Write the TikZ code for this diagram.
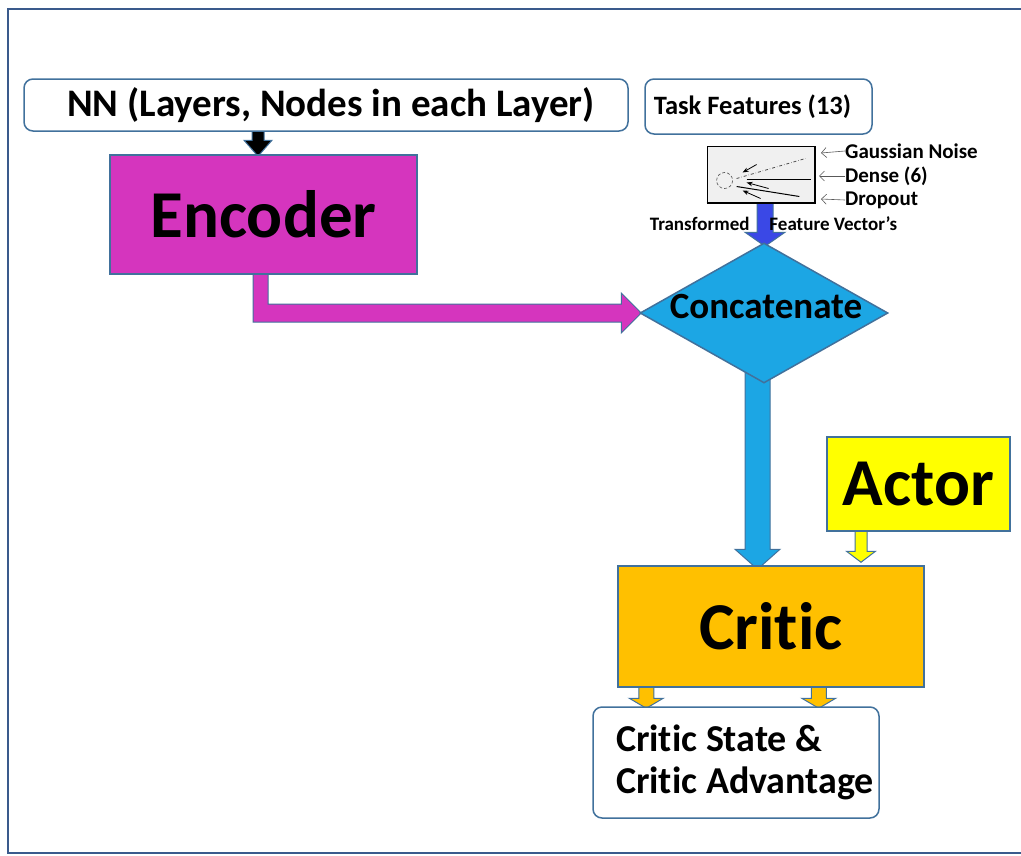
\documentclass[tikz,border=0pt]{standalone}
\usepackage{fontspec}
\setmainfont{Carlito}[Ligatures=NoCommon]
\usetikzlibrary{positioning,calc,arrows.meta,shapes.geometric,backgrounds}

\definecolor{edgeblue}{HTML}{41719C}
\definecolor{frameblue}{HTML}{3A5A8C}
\definecolor{encmag}{HTML}{D535BE}
\definecolor{catblue}{HTML}{1CA6E4}
\definecolor{critorange}{HTML}{FFC000}
\definecolor{actyellow}{HTML}{FFFF00}
\definecolor{featblue}{HTML}{3A48E6}

\tikzstyle{inbox} = [rectangle, draw=edgeblue, line width=1.5pt, rounded corners=9pt, fill=white, inner sep=0pt]
\tikzstyle{block} = [rectangle, draw=edgeblue, line width=1.5pt, inner sep=0pt, font=\bfseries\fontsize{67}{72}\selectfont]
\tikzstyle{note} = [inner sep=0pt, anchor=west, font=\bfseries\fontsize{21}{24}\selectfont]
\tikzstyle{thinarrow} = [-{Straight Barb[length=5pt]}, gray!70!black, line width=0.6pt]

% vertical block arrow: fill, from, to, shaft half width, head half width, head length
\newcommand{\downblock}[6]{%
  \draw[draw=edgeblue, line width=1pt, fill=#1, line join=miter] let \p1=(#2), \p2=(#3) in
    (\x1-#4,\y1) -- (\x1+#4,\y1) -- (\x1+#4,\y2+#6) -- (\x1+#5,\y2+#6) -- (\x1,\y2)
    -- (\x1-#5,\y2+#6) -- (\x1-#4,\y2+#6) -- cycle;}

\begin{document}
\begin{tikzpicture}[x=1pt, y=-1pt]
\useasboundingbox (0,0) rectangle (1021,855);

% outer frame
\draw[frameblue, line width=2.5pt] (1021,9) -- (8,9) -- (8,853) -- (1021,853);

% inputs
\node[inbox, minimum width=604pt, minimum height=52pt, font=\bfseries\fontsize{39}{44}\selectfont] (nn) at (326,105) {\hspace*{10pt}NN (Layers, Nodes in each Layer)};
\node[inbox, minimum width=227pt, minimum height=55pt, font=\bfseries\fontsize{26.5}{30}\selectfont] (task) at (758.5,106.5) {\hspace*{-12pt}Task Features (13)};

% encoder
\node[block, fill=encmag, minimum width=307pt, minimum height=119pt] (enc) at (263.5,214.5) {Encoder};

% feature layer sketch
\node[rectangle, draw=black, line width=0.8pt, fill=gray!12, minimum width=108pt, minimum height=57pt, inner sep=0pt] (layer) at (761,174.5) {};
\draw[black, line width=2pt] (layer.south west) -- (layer.south east) -- (layer.north east);
\draw[gray!60!black, densely dashed, line width=0.6pt] ($(layer.west)+(18,6)$) circle (8);
\draw[gray!60!black, dash dot, line width=0.8pt] ($(layer.west)+(30,4)$) -- ($(layer.east)+(-10,-16)$);
\draw[black, line width=1.6pt] ($(layer.west)+(40,5)$) -- ($(layer.east)+(-4,5)$);
\draw[black, line width=1pt] ($(layer.west)+(30,12)$) -- ($(layer.east)+(-16,22)$);
\draw[black, -{Stealth[length=6pt]}, line width=0.8pt] ($(layer.west)+(50,-10)$) -- ($(layer.west)+(36,-2)$);
\draw[black, -{Stealth[length=6pt]}, line width=0.8pt] ($(layer.west)+(62,14)$) -- ($(layer.west)+(40,8)$);
\draw[black, -{Stealth[length=6pt]}, line width=0.8pt] ($(layer.west)+(54,24)$) -- ($(layer.west)+(36,16)$);

\node[note] (gauss) at (845,151) {Gaussian Noise};
\node[note] (dense) at (845,176) {Dense (6)};
\node[note] (drop) at (845,200) {Dropout};
\draw[thinarrow] (gauss.west) -- ++(-24,2);
\draw[thinarrow] (dense.west) -- ++(-26,0);
\draw[thinarrow] (drop.west) -- ++(-24,-1);

% concatenate
\node[diamond, draw=edgeblue, line width=1.5pt, fill=catblue, inner sep=0pt, aspect=1.77, minimum width=248pt, minimum height=140pt] (cat) at (764,313) {};
\node[font=\bfseries\fontsize{37}{40}\selectfont, inner sep=0pt] (catlabel) at ($(cat.center)+(2,-7)$) {Concatenate};

% actor and critic
\node[block, fill=actyellow, minimum width=183pt, minimum height=94pt] (actor) at (918.5,484) {Actor};
\node[block, fill=critorange, minimum width=306pt, minimum height=121pt] (critic) at (771,626.5) {Critic};
\node[inbox, minimum width=286pt, minimum height=111pt, align=left, font=\bfseries\fontsize{38}{42}\selectfont] (out) at (736,762.5) {\hspace*{18pt}Critic State \&\\\hspace*{18pt}Critic Advantage};

% block arrows
\begin{scope}[on background layer]
\downblock{black}{$(nn.south)+(-68,-4)$}{$(enc.north)+(-5,2)$}{6pt}{14pt}{16pt}
\downblock{black}{$(task.south)+(7,-6)$}{$(layer.north)+(4,-14)$}{7pt}{18pt}{14pt}
\downblock{featblue}{$(layer.south)+(4,-4)$}{$(cat.north)+(0,4)$}{8pt}{20pt}{14pt}
\downblock{catblue}{$(cat.south)+(-6.5,-12)$}{$(critic.north)+(-13.5,4)$}{12.5pt}{22.5pt}{20pt}
\downblock{actyellow}{$(actor.south)+(-57.5,-1)$}{$(critic.north)+(90,-3)$}{6pt}{14.5pt}{11pt}
\downblock{critorange}{$(critic.south west)+(29,-1)$}{$(out.north west)+(54,2)$}{7.5pt}{17pt}{10pt}
\downblock{critorange}{$(critic.south west)+(201.5,-1)$}{$(out.north west)+(226.5,2)$}{7.5pt}{17pt}{10pt}
% encoder to concatenate
\draw[draw=edgeblue, line width=1pt, fill=encmag, line join=miter]
  let \p1=($(enc.south)+(-3,-1)$), \p2=(cat.west) in
  (\x1-7.5pt,\y1) -- (\x1+7.5pt,\y1) -- (\x1+7.5pt,\y2+9pt) -- (\x2-18pt,\y2+9pt)
  -- (\x2-18pt,\y2+20pt) -- (\x2+2pt,\y2) -- (\x2-18pt,\y2-20pt) -- (\x2-18pt,\y2-9pt)
  -- (\x1-7.5pt,\y2-9pt) -- cycle;
\end{scope}

% label across the blue arrow
\node[inner sep=0pt, font=\bfseries\fontsize{19}{21}\selectfont] (trans) at (773.5,224) {Transformed\hspace{20pt}Feature Vector's};

\end{tikzpicture}
\end{document}
